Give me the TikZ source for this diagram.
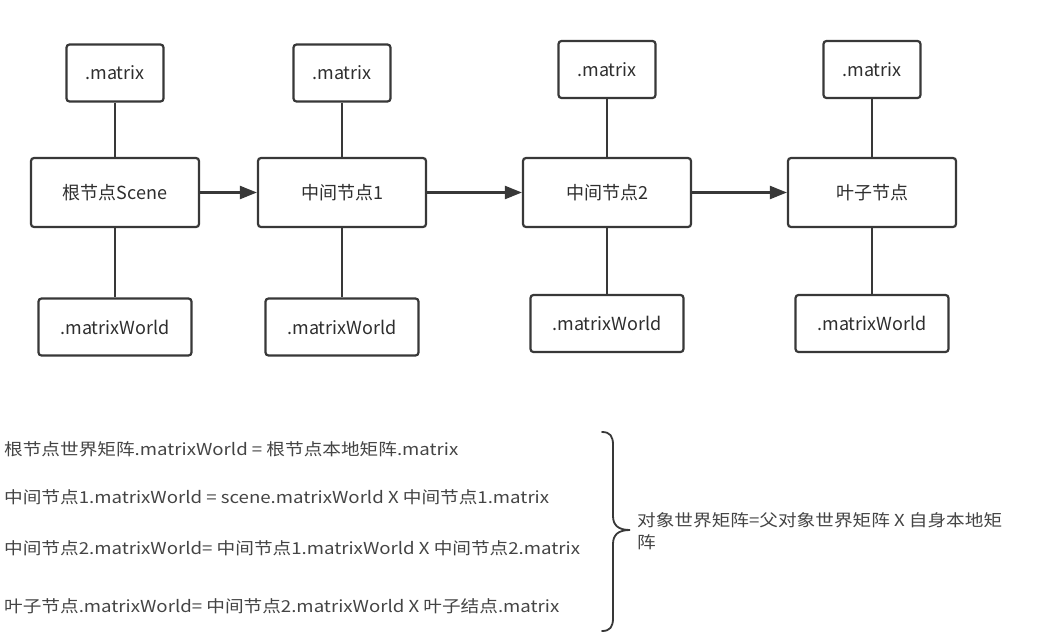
\documentclass[tikz,border=0pt]{standalone}
\usepackage{fontspec}
\newfontfamily\cjk{Noto Sans CJK SC}
\newfontfamily\cjkwide[FakeStretch=1.13]{Noto Sans CJK SC}
\usetikzlibrary{arrows.meta}
\definecolor{linec}{HTML}{383838}
\definecolor{textc}{HTML}{2E2E2E}
\definecolor{notec}{HTML}{444444}
\begin{document}
\begin{tikzpicture}[x=1pt,y=-1pt,
  box/.style={draw=linec, line width=2.2pt, rounded corners=3pt, fill=white,
    text=textc, font=\cjk\fontsize{18}{22}\selectfont, inner sep=0pt},
  topbox/.style={box, minimum width=97pt, minimum height=57pt},
  mainbox/.style={box, minimum width=168pt, minimum height=69pt},
  botbox/.style={box, minimum width=153pt, minimum height=57pt},
  link/.style={draw=linec, line width=2.2pt},
  flow/.style={link, -{Triangle[length=17pt,width=13pt]}},
  note/.style={anchor=west, inner sep=0pt, text=notec, font=\cjkwide\fontsize{16.5}{22}\selectfont},
]
\useasboundingbox (0,0) rectangle (1053,643);

% column 1
\node[topbox]  (m1) at (115,73)  {.matrix};
\node[mainbox] (n1) at (115,192.5) {根节点Scene};
\node[botbox]  (w1) at (115,327) {.matrixWorld};
% column 2
\node[topbox]  (m2) at (342,73)  {.matrix};
\node[mainbox] (n2) at (342,192.5) {中间节点1};
\node[botbox]  (w2) at (342,327) {.matrixWorld};
% column 3
\node[topbox]  (m3) at (607,69.5)  {.matrix};
\node[mainbox] (n3) at (607,192.5) {中间节点2};
\node[botbox]  (w3) at (607,323.5) {.matrixWorld};
% column 4
\node[topbox]  (m4) at (872,69.5)  {.matrix};
\node[mainbox] (n4) at (872,192.5) {叶子节点};
\node[botbox]  (w4) at (872,323.5) {.matrixWorld};

\foreach \i in {1,2,3,4}{
  \draw[link] (m\i) -- (n\i);
  \draw[link] (n\i) -- (w\i);
}
\draw[flow] (n1) -- (n2);
\draw[flow] (n2) -- (n3);
\draw[flow] (n3) -- (n4);

% formulas
\node[note] (f1) at (4,449) {根节点世界矩阵.matrixWorld = 根节点本地矩阵.matrix};
\node[note] (f2) at (4,497) {中间节点1.matrixWorld = scene.matrixWorld X 中间节点1.matrix};
\node[note] (f3) at (4,548) {中间节点2.matrixWorld= 中间节点1.matrixWorld X 中间节点2.matrix};
\node[note] (f4) at (4,606) {叶子节点.matrixWorld= 中间节点2.matrixWorld X 叶子结点.matrix};

% brace
\draw[link, line width=1.8pt, line cap=round]
  (602,432) .. controls (610,432) and (613,436) .. (613,445)
  -- (613,516) .. controls (613,525) and (618,530) .. (630,530)
  .. controls (618,530) and (613,535) .. (613,544)
  -- (613,618) .. controls (613,627) and (610,631) .. (602,631);

\node[note, align=left] (rule) at (637,531) {对象世界矩阵=父对象世界矩阵 X 自身本地矩\\阵};
\end{tikzpicture}
\end{document}
